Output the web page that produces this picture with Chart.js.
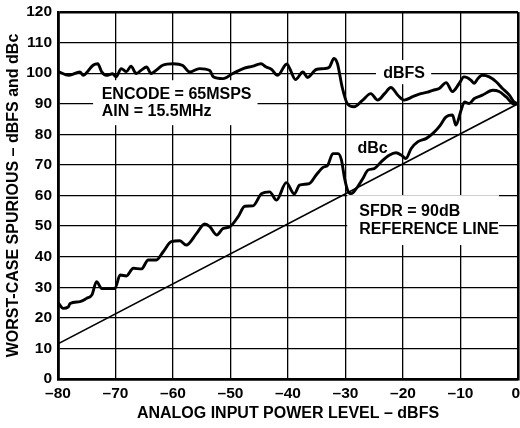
<!DOCTYPE html>
<html>
<head>
<meta charset="utf-8">
<script src="https://cdn.jsdelivr.net/npm/chart.js@4/dist/chart.umd.min.js"></script>
<style>
  html, body { margin: 0; padding: 0; background: #fff; }
  #wrap { width: 520px; height: 428px; }
</style>
</head>
<body>
<div id="wrap"><canvas id="c" width="520" height="428"></canvas></div>
<script>
// ---- data ----
const xTicks = [-80, -70, -60, -50, -40, -30, -20, -10, 0];
const yTicks = [0, 10, 20, 30, 40, 50, 60, 70, 80, 90, 100, 110, 120];

const dbfsX = [-80,-78.1,-76.2,-75.6,-75.0,-73.9,-73.1,-72.4,-71.6,-70.5,-69.9,-69.0,-68.1,-67.3,-66.4,-65.5,-64.6,-63.8,-62.9,-61.8,-60.0,-58.3,-57.1,-55.4,-53.6,-53.0,-51.3,-49.6,-47.8,-46.1,-44.7,-43.8,-42.9,-41.8,-40.2,-39.7,-38.7,-37.4,-36.6,-35.1,-33.7,-32.8,-32.0,-31.4,-30.6,-29.7,-28.5,-27.0,-25.6,-24.4,-23.2,-22.1,-20.9,-19.8,-18.3,-16.9,-15.7,-14.8,-13.7,-12.5,-11.4,-10.2,-9.4,-8.8,-8.2,-7.6,-7.0,-6.2,-5.0,-3.8,-2.7,-1.5,-0.7,0];
const dbfsY = [100.6,99.3,100.4,99.3,100.2,102.6,103.1,100.4,99.3,99.8,98.8,101.5,100.5,102.3,99.9,101,102,99.9,101,102.6,103.1,102.5,100.4,101.5,100.9,98.8,98.2,99.9,101.5,102.3,103.1,102,101.3,99.3,103,101.5,97.9,100.4,98.6,101.2,101.5,102,104.8,103.1,95.6,90.1,89.0,91.2,93.3,91.2,93.3,95.3,92.8,91.2,92.3,93.3,93.8,94.4,95.0,96.9,94.0,96.7,98.8,98.5,97.7,96.7,98.2,99.3,98.8,97.2,95.0,92.8,90.6,90];

const dbcX = [-80,-79.1,-78.2,-77.9,-76.2,-75.0,-74.1,-73.3,-72.4,-70.1,-69.2,-68.1,-66.9,-65.5,-64.3,-62.9,-61.7,-60.3,-58.8,-57.7,-55.9,-54.5,-53.6,-52.4,-51.3,-50.1,-48.7,-47.5,-46.1,-44.6,-43.2,-42.0,-40.3,-38.9,-38.0,-36.3,-35.1,-33.9,-33.1,-32.2,-31.3,-30.7,-30.2,-29.6,-29.0,-28.1,-27.0,-26.1,-25.0,-23.8,-22.4,-21.2,-20.3,-19.5,-18.6,-17.4,-16.0,-14.8,-13.7,-12.5,-11.4,-10.8,-9.9,-9.3,-8.5,-7.6,-6.2,-4.4,-3.3,-2.1,-0.7,0];
const dbcY = [25.0,23.1,23.6,24.7,25.3,26.4,27.5,31.8,29.6,29.6,34.0,33.7,36.2,36.0,38.9,38.9,41.6,44.9,45.2,43.8,47.6,50.7,49.8,47.1,49.2,49.8,53.0,56.5,56.6,60.6,61.2,58.5,64.2,60.5,63.4,63.9,66.7,69.2,69.9,73.7,73.7,71.6,66.0,61.5,60.6,62.3,65.5,68.3,68.8,71.0,73.2,74.0,73.2,72.1,75.3,77.6,78.6,80.3,82.5,85.7,86.3,83.0,87.9,90.6,90.1,91.7,92.8,94.4,94.0,92.3,89.9,90];

const refX = [-80, 0];
const refY = [11.5, 90];

const xTitle = 'ANALOG INPUT POWER LEVEL – dBFS';
const yTitle = 'WORST-CASE SPURIOUS – dBFS and dBc';

// annotation texts (positions in data units, kept in the plugin config below)
const labelDbfs = 'dBFS';
const labelDbc = 'dBc';
const labelEncode = ['ENCODE = 65MSPS', 'AIN = 15.5MHz'];
const labelSfdr = ['SFDR = 90dB', 'REFERENCE LINE'];

// ---- build ----
const pairs = (xs, ys) => xs.map((x, i) => ({ x, y: ys[i] }));
const FONT = "'Liberation Sans', Arial, Helvetica, sans-serif";
const fmtX = v => (v < 0 ? '–' + Math.abs(v) : String(v));

const annotations = [
  { lines: [labelDbfs], x: -19.8, y: 100.0, align: 'center', box: [-24.7, -15.1, 104.3, 96.4] },
  { lines: labelEncode, x: -72.4, y: 93.1, dy: -5.7, align: 'left', box: [-73.9, -45.3, 97.7, 83.0] },
  { lines: [labelDbc], x: -25.3, y: 75.5, align: 'center', box: null },
  { lines: labelSfdr, x: -27.6, y: 54.6, dy: -5.6, align: 'left', box: [-29.7, -3.3, 60.1, 43.8] }
];

const annotPlugin = {
  id: 'annot',
  beforeDatasetsDraw(chart) {
    const { ctx, scales: { x, y } } = chart;
    ctx.save();
    annotations.forEach(a => {
      if (a.box) {
        const l = x.getPixelForValue(a.box[0]), r = x.getPixelForValue(a.box[1]);
        const t = y.getPixelForValue(a.box[2]), b = y.getPixelForValue(a.box[3]);
        ctx.fillStyle = '#fff';
        ctx.fillRect(l, t, r - l, b - t);
      }
    });
    ctx.fillStyle = '#000';
    ctx.font = 'bold 16px ' + FONT;
    ctx.textBaseline = 'middle';
    annotations.forEach(a => {
      ctx.textAlign = a.align;
      a.lines.forEach((txt, i) => {
        const px = x.getPixelForValue(a.x);
        const py = y.getPixelForValue(a.y + i * (a.dy || 0));
        ctx.fillText(txt, px, py);
      });
    });
    ctx.restore();
  },
  afterDraw(chart) {
    // x tick labels, placed at the x scale's tick pixels; last one kept inside the canvas
    const { ctx, scales: { x } } = chart;
    ctx.save();
    ctx.fillStyle = '#000';
    ctx.font = 'bold 15.5px ' + FONT;
    ctx.textBaseline = 'middle';
    ctx.textAlign = 'center';
    x.ticks.forEach(t => {
      const txt = fmtX(t.value);
      const w = ctx.measureText(txt).width;
      let px = x.getPixelForValue(t.value);
      px = Math.min(px, chart.width - w / 2);
      ctx.fillText(txt, px, x.top + 14.5);
    });
    ctx.restore();
  }
};

const edgeW = 2.6, gridW = 1.3;

new Chart(document.getElementById('c'), {
  type: 'line',
  data: {
    datasets: [
      { label: 'dBFS', data: pairs(dbfsX, dbfsY), borderColor: '#000', borderWidth: 2.9, pointRadius: 0, cubicInterpolationMode: 'monotone', fill: false },
      { label: 'dBc', data: pairs(dbcX, dbcY), borderColor: '#000', borderWidth: 2.9, pointRadius: 0, cubicInterpolationMode: 'monotone', fill: false },
      { label: 'Reference', data: pairs(refX, refY), borderColor: '#000', borderWidth: 1.6, pointRadius: 0, tension: 0, fill: false }
    ]
  },
  options: {
    responsive: false,
    animation: false,
    devicePixelRatio: 1,
    layout: { padding: { left: 0, right: 2, top: 12, bottom: 0 } },
    plugins: { legend: { display: false }, tooltip: { enabled: false } },
    scales: {
      x: {
        type: 'linear', min: -80, max: 0,
        afterBuildTicks: s => { s.ticks = xTicks.map(v => ({ value: v })); },
        afterFit: s => { s.height = 49; s.paddingLeft = 0; s.paddingRight = 0; },
        grid: { color: '#000', lineWidth: c => (c.tick && (c.tick.value === -80 || c.tick.value === 0)) ? edgeW : gridW, drawTicks: false },
        border: { display: true, color: '#000', width: edgeW },
        ticks: { display: false },
        title: { display: true, text: xTitle, color: '#000', padding: { top: 0, bottom: 5 },
          font: { family: FONT, size: 16, weight: 'bold' } }
      },
      y: {
        type: 'linear', min: 0, max: 120,
        afterBuildTicks: s => { s.ticks = yTicks.map(v => ({ value: v })); },
        afterFit: s => { s.width = 58; s.paddingTop = 0; s.paddingBottom = 0; },
        grid: { color: '#000', lineWidth: c => (c.tick && (c.tick.value === 0 || c.tick.value === 120)) ? edgeW : gridW, drawTicks: false },
        border: { display: true, color: '#000', width: edgeW },
        ticks: { color: '#000', padding: 6, autoSkip: false,
          font: { family: FONT, size: 15.5, weight: 'bold' } },
        title: { display: true, text: yTitle, color: '#000', padding: { top: 4, bottom: 0 },
          font: { family: FONT, size: 16, weight: 'bold' } }
      }
    }
  },
  plugins: [annotPlugin]
});
</script>
</body>
</html>
